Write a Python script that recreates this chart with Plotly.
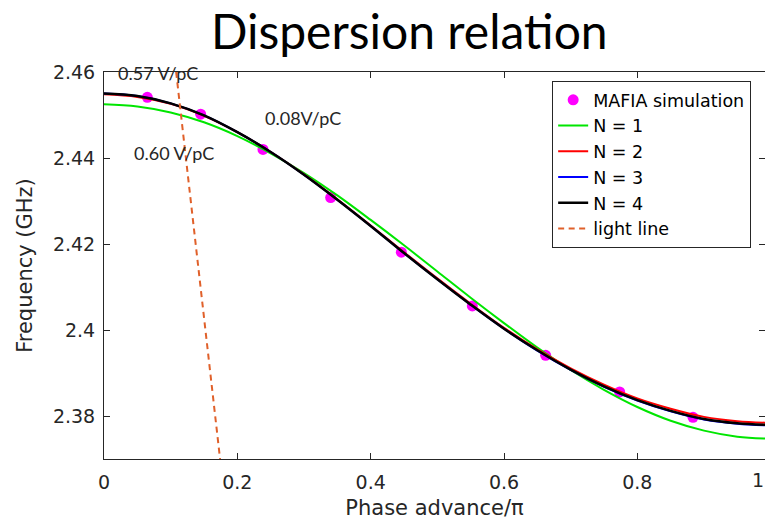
import plotly.graph_objects as go

# ---- data ----
phase_grid = [0.00, 0.05, 0.10, 0.15, 0.20, 0.25, 0.30, 0.35, 0.40, 0.45, 0.50,
              0.55, 0.60, 0.65, 0.70, 0.75, 0.80, 0.85, 0.90, 0.95, 1.00]
freq_n1 = [2.4525, 2.4520, 2.4506, 2.4483, 2.4451, 2.4411, 2.4365, 2.4313, 2.4256, 2.4197, 2.4136,
           2.4075, 2.4016, 2.3959, 2.3907, 2.3861, 2.3821, 2.3789, 2.3766, 2.3752, 2.3747]
freq_n2 = [2.4548, 2.4542, 2.4526, 2.4498, 2.4460, 2.4414, 2.4362, 2.4304, 2.4243, 2.4181, 2.4120,
           2.4061, 2.4005, 2.3955, 2.3911, 2.3873, 2.3841, 2.3817, 2.3798, 2.3788, 2.3784]
freq_n3 = [2.4550, 2.4544, 2.4527, 2.4499, 2.4460, 2.4414, 2.4361, 2.4303, 2.4242, 2.4179, 2.4118,
           2.4059, 2.4003, 2.3952, 2.3907, 2.3868, 2.3836, 2.3811, 2.3792, 2.3782, 2.3778]
freq_n4 = [2.4550, 2.4544, 2.4527, 2.4499, 2.4460, 2.4414, 2.4361, 2.4303, 2.4242, 2.4179, 2.4118,
           2.4059, 2.4003, 2.3953, 2.3908, 2.3869, 2.3837, 2.3812, 2.3793, 2.3783, 2.3779]

mafia_phase = [0.065, 0.145, 0.2385, 0.340, 0.446, 0.5525, 0.6625, 0.7735, 0.8835]
mafia_freq = [2.4541, 2.4502, 2.4420, 2.4308, 2.4181, 2.4056, 2.3941, 2.3856, 2.3797]

light_phase = [0.1082, 0.1741]
light_freq = [2.46, 2.37]

x_tickvals = [0, 0.2, 0.4, 0.6, 0.8]
x_ticktext = ["0", "0.2", "0.4", "0.6", "0.8"]
y_tickvals = [2.38, 2.40, 2.42, 2.44, 2.46]
y_ticktext = ["2.38", "2.4", "2.42", "2.44", "2.46"]

notes = ["0.57 V/pC", "0.60 V/pC", "0.08V/pC"]
notes_x = [0.0816, 0.1046, 0.2990]
notes_y = [2.4598, 2.4412, 2.4494]

AX = "#262626"
TICKFONT = dict(family="DejaVu Sans", size=19, color=AX)

fig = go.Figure()
fig.add_trace(go.Scatter(x=mafia_phase, y=mafia_freq, mode="markers", name="MAFIA simulation",
                         marker=dict(color="#FF00FF", size=11, line=dict(width=0))))
fig.add_trace(go.Scatter(x=phase_grid, y=freq_n1, mode="lines", name="N = 1",
                         line=dict(color="#00E600", width=2, shape="spline")))
fig.add_trace(go.Scatter(x=phase_grid, y=freq_n2, mode="lines", name="N = 2",
                         line=dict(color="#FF0000", width=2, shape="spline")))
fig.add_trace(go.Scatter(x=phase_grid, y=freq_n3, mode="lines", name="N = 3",
                         line=dict(color="#0000FF", width=2, shape="spline")))
fig.add_trace(go.Scatter(x=phase_grid, y=freq_n4, mode="lines", name="N = 4",
                         line=dict(color="#000000", width=2.5, shape="spline")))
fig.add_trace(go.Scatter(x=light_phase, y=light_freq, mode="lines", name="light line",
                         line=dict(color="#E0602A", width=2, dash="6px,4.5px")))

for t, xx, yy in zip(notes, notes_x, notes_y):
    fig.add_annotation(x=xx, y=yy, xref="x", yref="y", text=t, showarrow=False,
                       font=dict(family="Lato", size=18, color=AX),
                       xanchor="center", yanchor="middle")

# "1" tick label at the right edge (its axis position lies just beyond the frame)
fig.add_annotation(x=1.0, y=0, xref="paper", yref="paper", text="1", showarrow=False,
                   font=TICKFONT, xanchor="right", yanchor="top", yshift=-8, xshift=1)

fig.update_layout(
    width=765, height=522,
    margin=dict(l=104, r=0, t=72, b=63),
    paper_bgcolor="white", plot_bgcolor="white",
    title=dict(text="Dispersion relation", x=0.535, xanchor="center", xref="container",
               y=0.938, yanchor="middle", yref="container",
               font=dict(family="Lato", size=48, color="black")),
    legend=dict(x=0.678, y=0.977, xanchor="left", yanchor="top",
                bgcolor="white", bordercolor=AX, borderwidth=1,
                font=dict(family="DejaVu Sans", size=17.5, color="black")),
    showlegend=True,
)
fig.update_xaxes(range=[0, 0.9915], tickvals=x_tickvals, ticktext=x_ticktext,
                 showline=True, linecolor=AX, linewidth=1, mirror="allticks",
                 ticks="inside", ticklen=6, tickcolor=AX, tickfont=TICKFONT,
                 ticklabelstandoff=6,
                 showgrid=False, zeroline=False, automargin=False,
                 title=dict(text="Phase advance/π", font=dict(family="DejaVu Sans", size=21, color=AX),
                            standoff=8))
fig.update_yaxes(range=[2.37, 2.46], tickvals=y_tickvals, ticktext=y_ticktext,
                 showline=True, linecolor=AX, linewidth=1, mirror="allticks",
                 ticks="inside", ticklen=6, tickcolor=AX, tickfont=TICKFONT,
                 ticklabelstandoff=4,
                 showgrid=False, zeroline=False, automargin=False,
                 title=dict(text="Frequency (GHz)", font=dict(family="DejaVu Sans", size=21, color=AX),
                            standoff=14))

fig.write_html("out.html", config={"displayModeBar": False},
               post_script="document.body.style.margin='0';document.body.style.padding='0';")
